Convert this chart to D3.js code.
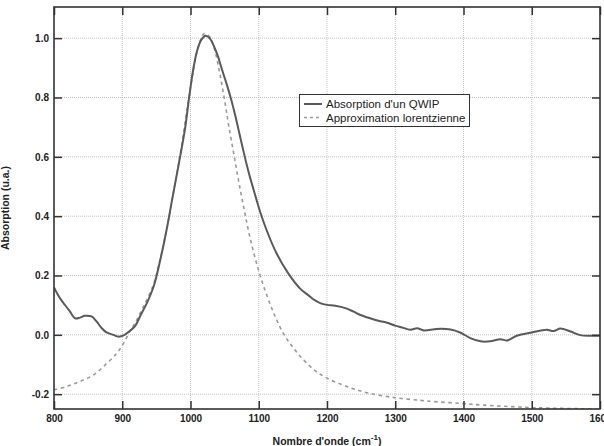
<!DOCTYPE html>
<html><head><meta charset="utf-8">
<script src="https://cdn.jsdelivr.net/npm/d3@7"></script>
<style>body{margin:0;background:#fff;}svg{display:block;}</style>
</head><body>
<script>
// Measured QWIP absorption (wavenumber, absorption)
const measWave = [800,805,811,817,823,831,838,845,855,862,870,877,887,894,902,911,919,926,936,946,955,965,973,985,992,998,1004,1010,1016,1022,1028,1034,1040,1046,1053,1060,1066,1072,1078,1085,1093,1102,1112,1126,1143,1161,1173,1182,1190,1200,1212,1227,1239,1249,1263,1278,1288,1300,1310,1322,1332,1342,1361,1381,1395,1410,1425,1439,1454,1464,1478,1500,1522,1532,1542,1557,1571,1586,1600];
const measAbs = [0.16,0.138,0.116,0.098,0.08,0.056,0.058,0.064,0.062,0.046,0.022,0.008,0.0,-0.006,-0.002,0.013,0.03,0.062,0.107,0.163,0.245,0.354,0.455,0.603,0.695,0.80,0.895,0.96,0.995,1.008,1.0,0.975,0.94,0.895,0.845,0.79,0.735,0.675,0.615,0.55,0.485,0.415,0.35,0.275,0.208,0.155,0.133,0.117,0.107,0.101,0.098,0.09,0.078,0.067,0.056,0.046,0.041,0.031,0.025,0.017,0.022,0.015,0.02,0.018,0.008,-0.011,-0.022,-0.022,-0.015,-0.019,-0.003,0.008,0.017,0.013,0.021,0.011,-0.001,-0.003,-0.003];
// Lorentzian approximation
const lorWave = [800,819,838,858,877,892,902,911,920,930,945,955,965,975,985,995,1005,1012,1020,1028,1036,1043,1050,1056,1063,1070,1078,1087,1100,1112,1124,1136,1148,1161,1180,1200,1229,1258,1300,1337,1356,1395,1429,1488,1527,1571,1600];
const lorAbs = [-0.185,-0.174,-0.157,-0.135,-0.097,-0.062,-0.028,0.011,0.045,0.09,0.165,0.25,0.355,0.48,0.61,0.76,0.9,0.975,1.015,1.005,0.955,0.88,0.79,0.705,0.615,0.525,0.43,0.33,0.215,0.132,0.062,0.005,-0.036,-0.073,-0.116,-0.146,-0.174,-0.195,-0.212,-0.221,-0.225,-0.231,-0.237,-0.244,-0.247,-0.249,-0.25];
const xTicks = [800,900,1000,1100,1200,1300,1400,1500,1600];
const yTicks = [-0.2,0.0,0.2,0.4,0.6,0.8,1.0];
const seriesNames = ["Absorption d'un QWIP","Approximation lorentzienne"];

const W=604,H=446;
const L=54,R=600,T=7,B=409;
const x=d3.scaleLinear().domain([800,1600]).range([L,R]);
const y=d3.scaleLinear().domain([-0.25,1.105]).range([B,T]);
const svg=d3.select("body").append("svg").attr("width",W).attr("height",H);

const font="'Liberation Sans', Arial, sans-serif";
// grid
const g=svg.append("g");
g.selectAll(".vg").data(xTicks.filter(d=>d>800&&d<1600)).enter().append("line")
 .attr("x1",d=>x(d)).attr("x2",d=>x(d)).attr("y1",T).attr("y2",B)
 .attr("stroke","#c4c4c4").attr("stroke-width",1).attr("stroke-dasharray","1,1");
g.selectAll(".hg").data(yTicks).enter().append("line")
 .attr("x1",L).attr("x2",R).attr("y1",d=>y(d)).attr("y2",d=>y(d))
 .attr("stroke","#c4c4c4").attr("stroke-width",1).attr("stroke-dasharray","1,1");

svg.append("defs").append("clipPath").attr("id","clip").append("rect")
 .attr("x",L).attr("y",T).attr("width",R-L).attr("height",B-T);

const line=d3.line().x(d=>x(d[0])).y(d=>y(d[1])).curve(d3.curveCatmullRom.alpha(0.5));
const pg=svg.append("g").attr("clip-path","url(#clip)");
pg.append("path").datum(lorWave.map((w,i)=>[w,lorAbs[i]])).attr("d",line)
 .attr("fill","none").attr("stroke","#9a9a9a").attr("stroke-width",1.6).attr("stroke-dasharray","3.5,3.5");
pg.append("path").datum(measWave.map((w,i)=>[w,measAbs[i]])).attr("d",line)
 .attr("fill","none").attr("stroke","#5a5a5a").attr("stroke-width",2);

// axes
const axB=svg.append("g").attr("transform",`translate(0,${B})`)
 .call(d3.axisBottom(x).tickValues(xTicks).tickFormat(d3.format("d")).tickSizeInner(-8).tickSizeOuter(0).tickPadding(6));
const axT=svg.append("g").attr("transform",`translate(0,${T})`)
 .call(d3.axisTop(x).tickValues(xTicks).tickSizeInner(-8).tickSizeOuter(0).tickFormat(""));
const axL=svg.append("g").attr("transform",`translate(${L},0)`)
 .call(d3.axisLeft(y).tickValues(yTicks).tickFormat(d3.format(".1f")).tickSizeInner(-8).tickSizeOuter(0).tickPadding(5));
const axR=svg.append("g").attr("transform",`translate(${R},0)`)
 .call(d3.axisRight(y).tickValues(yTicks).tickSizeInner(-8).tickSizeOuter(0).tickFormat(""));
[axB,axT,axL,axR].forEach(a=>{
 a.select(".domain").remove();
 a.selectAll(".tick line").attr("stroke","#333").attr("stroke-width",1.5);
 a.selectAll("text").attr("font-family",font).attr("font-size","10px").attr("font-weight","bold").attr("fill","#222");
});
axL.selectAll("text").text(d=>d3.format(".1f")(d).replace("−","-"));
svg.append("rect").attr("x",L).attr("y",T).attr("width",R-L).attr("height",B-T)
 .attr("fill","none").attr("stroke","#333").attr("stroke-width",1.6);

// titles
const xt=svg.append("text").attr("x",327).attr("y",445).attr("text-anchor","middle")
 .attr("font-family",font).attr("font-size","10.5px").attr("font-weight","bold").attr("fill","#222");
xt.append("tspan").text("Nombre d'onde (cm");
xt.append("tspan").attr("dy",-5).attr("font-size","8px").text("-1");
xt.append("tspan").attr("dy",5).text(")");
svg.append("text").attr("transform","translate(9,208) rotate(-90)").attr("text-anchor","middle")
 .attr("font-family",font).attr("font-size","10.5px").attr("font-weight","bold").attr("fill","#222")
 .text("Absorption (u.a.)");

// legend
const lg=svg.append("g");
lg.append("rect").attr("x",299.5).attr("y",94.5).attr("width",170).attr("height",32)
 .attr("fill","#fff").attr("stroke","#333").attr("stroke-width",1);
lg.append("line").attr("x1",304).attr("x2",322).attr("y1",104).attr("y2",104)
 .attr("stroke","#5a5a5a").attr("stroke-width",2);
lg.append("line").attr("x1",304).attr("x2",322).attr("y1",117.5).attr("y2",117.5)
 .attr("stroke","#9a9a9a").attr("stroke-width",1.6).attr("stroke-dasharray","3,3");
lg.selectAll(".lt").data(seriesNames).enter().append("text")
 .attr("x",326).attr("y",(d,i)=>108+i*13.5)
 .attr("font-family",font).attr("font-size","11.5px").attr("fill","#222").text(d=>d);
</script>
</body></html>
